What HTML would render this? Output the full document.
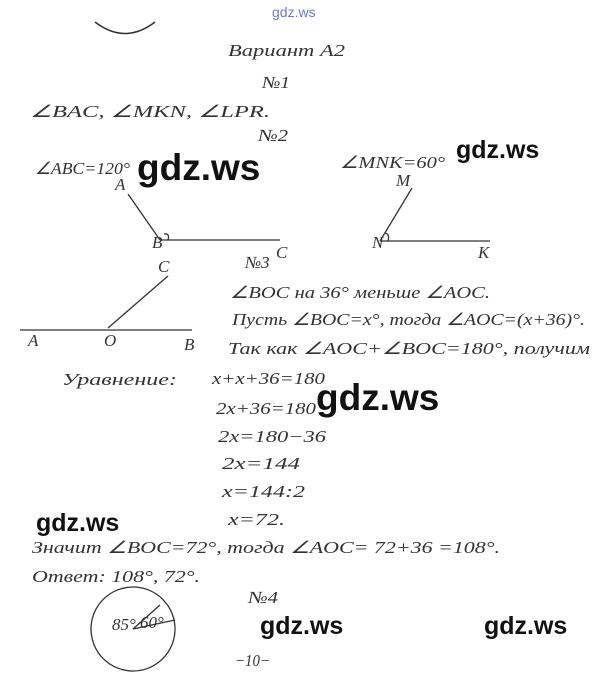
<!DOCTYPE html>
<html><head><meta charset="utf-8"><style>
html,body{margin:0;padding:0;background:#fff;}
svg{display:block;}
.h{font-family:"Liberation Serif",serif;font-style:italic;fill:#333;font-size:17px;}
.w{font-family:"Liberation Sans",sans-serif;font-weight:bold;fill:#111;}
</style></head><body>
<svg width="600" height="674" viewBox="0 0 600 674" xmlns="http://www.w3.org/2000/svg">
<rect width="600" height="674" fill="#fff"/>
<path d="M95 22 Q125 45 155 22" stroke="#333" fill="none" stroke-width="1.5"/>
<text x="272" y="17" font-family="Liberation Sans,sans-serif" font-size="14" fill="#6a7ad0">gdz.ws</text>
<g stroke="#333" stroke-width="1.3" fill="none">
<line x1="128" y1="194" x2="160" y2="240"/><line x1="160" y1="240" x2="280" y2="240"/>
<path d="M168 240 Q170 233 164 234"/>
<line x1="412" y1="188" x2="380" y2="241"/><line x1="380" y1="241" x2="490" y2="241"/>
<path d="M388 241 Q390 234 385 233"/>
<line x1="20" y1="330" x2="192" y2="330"/><line x1="108" y1="328" x2="168" y2="276"/>
<circle cx="133" cy="629" r="42"/><line x1="133" y1="629" x2="175" y2="620"/><line x1="133" y1="629" x2="160" y2="605"/>
</g>
<text class="h" x="228" y="56" textLength="117" lengthAdjust="spacingAndGlyphs">Вариант А2</text>
<text class="h" x="262" y="88" textLength="28" lengthAdjust="spacingAndGlyphs">№1</text>
<text class="h" x="30" y="117" textLength="240" lengthAdjust="spacingAndGlyphs">∠BAC, ∠MKN, ∠LPR.</text>
<text class="h" x="258" y="141" textLength="30" lengthAdjust="spacingAndGlyphs">№2</text>
<text class="h" x="35" y="174" textLength="95" lengthAdjust="spacingAndGlyphs" font-size="14">∠ABC=120°</text>
<text class="h" x="340" y="168" textLength="105" lengthAdjust="spacingAndGlyphs" font-size="14">∠MNK=60°</text>
<text class="h" x="115" y="190" font-size="12">A</text>
<text class="h" x="152" y="248" font-size="12">B</text>
<text class="h" x="276" y="258" font-size="12">C</text>
<text class="h" x="396" y="186" font-size="12">M</text>
<text class="h" x="372" y="248" font-size="12">N</text>
<text class="h" x="478" y="258" font-size="12">K</text>
<text class="h" x="245" y="268" font-size="14">№3</text>
<text class="h" x="158" y="272" font-size="12">C</text>
<text class="h" x="28" y="346" font-size="12">A</text>
<text class="h" x="104" y="346" font-size="12">O</text>
<text class="h" x="184" y="350" font-size="12">B</text>
<text class="h" x="230" y="298" textLength="260" lengthAdjust="spacingAndGlyphs">∠BOC на 36° меньше ∠AOC.</text>
<text class="h" x="232" y="325" textLength="353" lengthAdjust="spacingAndGlyphs">Пусть ∠BOC=x°, тогда ∠AOC=(x+36)°.</text>
<text class="h" x="228" y="354" textLength="362" lengthAdjust="spacingAndGlyphs">Так как ∠AOC+∠BOC=180°, получим</text>
<text class="h" x="62" y="385" textLength="115" lengthAdjust="spacingAndGlyphs">Уравнение:</text>
<text class="h" x="212" y="384" textLength="113" lengthAdjust="spacingAndGlyphs">x+x+36=180</text>
<text class="h" x="216" y="414" textLength="100" lengthAdjust="spacingAndGlyphs">2x+36=180</text>
<text class="h" x="218" y="442" textLength="108" lengthAdjust="spacingAndGlyphs">2x=180−36</text>
<text class="h" x="222" y="469" textLength="78" lengthAdjust="spacingAndGlyphs">2x=144</text>
<text class="h" x="222" y="497" textLength="83" lengthAdjust="spacingAndGlyphs">x=144:2</text>
<text class="h" x="228" y="525" textLength="57" lengthAdjust="spacingAndGlyphs">x=72.</text>
<text class="h" x="32" y="553" textLength="468" lengthAdjust="spacingAndGlyphs">Значит ∠BOC=72°, тогда ∠AOC= 72+36 =108°.</text>
<text class="h" x="32" y="582" textLength="168" lengthAdjust="spacingAndGlyphs">Ответ: 108°, 72°.</text>
<text class="h" x="248" y="603" textLength="30" lengthAdjust="spacingAndGlyphs">№4</text>
<text class="h" x="140" y="628" font-size="11">60°</text>
<text class="h" x="112" y="630" font-size="11">85°</text>
<text class="h" x="235" y="666" textLength="35" lengthAdjust="spacingAndGlyphs" font-size="14">−10−</text>
<text class="w" x="137" y="180" font-size="37">gdz.ws</text>
<text class="w" x="456" y="158" font-size="25">gdz.ws</text>
<text class="w" x="316" y="410" font-size="37">gdz.ws</text>
<text class="w" x="36" y="531" font-size="25">gdz.ws</text>
<text class="w" x="260" y="634" font-size="25">gdz.ws</text>
<text class="w" x="484" y="634" font-size="25">gdz.ws</text>
</svg>
</body></html>
